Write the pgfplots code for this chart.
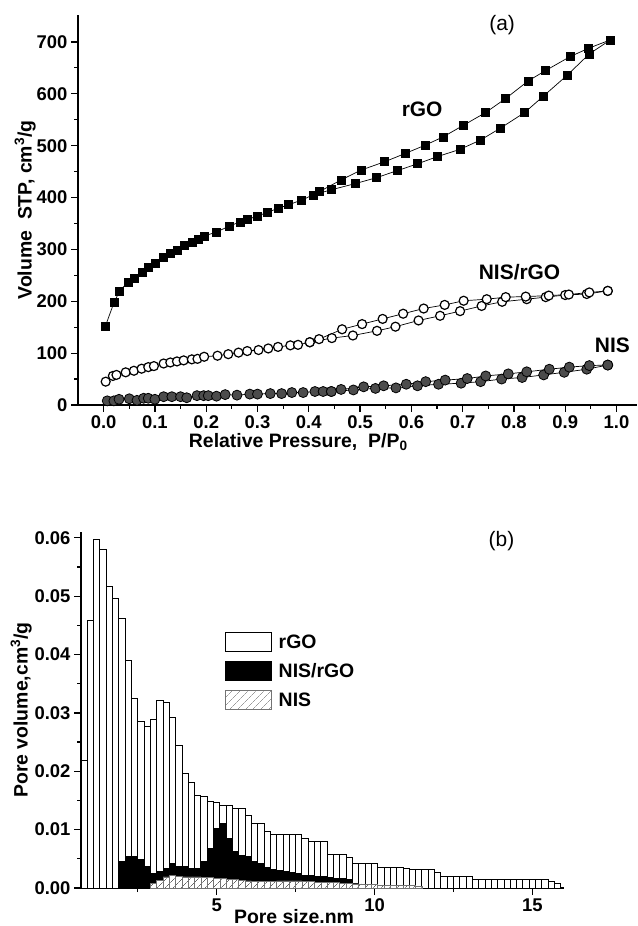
\documentclass[border=0pt]{standalone}
\usepackage{fontspec}
\setmainfont{Liberation Sans}
\usepackage{pgfplots}
\pgfplotsset{compat=1.18}
\usepackage{pgfplotstable}
\usetikzlibrary{patterns,patterns.meta}

\pgfplotstableread{
x rgo
0.8 0.0219
1.0 0.0459
1.2 0.0598
1.4 0.0580
1.6 0.0516
1.8 0.0496
2.0 0.0461
2.2 0.0389
2.4 0.0324
2.6 0.0285
2.8 0.0276
3.0 0.0289
3.2 0.0322
3.4 0.0317
3.6 0.0292
3.8 0.0245
4.0 0.0197
4.2 0.0181
4.4 0.0158
4.6 0.0156
4.8 0.0149
5.0 0.0146
5.2 0.0142
5.4 0.0142
5.6 0.0137
5.8 0.0136
6.0 0.0124
6.2 0.0110
6.4 0.0110
6.6 0.0096
6.8 0.0092
7.0 0.0092
7.2 0.0092
7.4 0.0092
7.6 0.0092
7.8 0.0085
8.0 0.0079
8.2 0.0079
8.4 0.0079
8.6 0.0057
8.8 0.0057
9.0 0.0057
9.2 0.0052
9.4 0.0042
9.6 0.0042
9.8 0.0042
10.0 0.0042
10.2 0.0035
10.4 0.0035
10.6 0.0035
10.8 0.0035
11.0 0.0033
11.2 0.0032
11.4 0.0032
11.6 0.0032
11.8 0.0032
12.0 0.0027
12.2 0.0020
12.4 0.0020
12.6 0.0020
12.8 0.0020
13.0 0.0020
13.2 0.0014
13.4 0.0014
13.6 0.0014
13.8 0.0014
14.0 0.0014
14.2 0.0014
14.4 0.0014
14.6 0.0014
14.8 0.0014
15.0 0.0014
15.2 0.0014
15.4 0.0014
15.6 0.0011
15.8 0.0007
}\rgotable

\pgfplotstableread{
x y
2.0 0.0045
2.2 0.0054
2.4 0.0054
2.6 0.0048
2.8 0.0037
3.0 0.0025
3.2 0.0028
3.4 0.0033
3.6 0.0042
3.8 0.0037
4.0 0.0036
4.2 0.0034
4.4 0.0033
4.6 0.0045
4.8 0.0068
5.0 0.0102
5.2 0.0110
5.4 0.0085
5.6 0.0063
5.8 0.0056
6.0 0.0054
6.2 0.0045
6.4 0.0042
6.6 0.0035
6.8 0.0032
7.0 0.0030
7.2 0.0029
7.4 0.0026
7.6 0.0024
7.8 0.0022
8.0 0.0021
8.2 0.0020
8.4 0.0019
8.6 0.0018
8.8 0.0017
9.0 0.0016
9.2 0.0014
9.4 0.0008
9.6 0.0006
9.8 0.0005
10.0 0.0004
10.2 0.0003
10.4 0.0003
10.6 0.0002
10.8 0.0002
11.0 0.0002
11.2 0.0001
}\nisrgotable

\pgfplotstableread{
x y
3.0 0.0008
3.2 0.0013
3.4 0.0019
3.6 0.0022
3.8 0.0020
4.0 0.0019
4.2 0.0019
4.4 0.0019
4.6 0.0018
4.8 0.0018
5.0 0.0017
5.2 0.0016
5.4 0.0015
5.6 0.0014
5.8 0.0013
6.0 0.0012
6.2 0.0011
6.4 0.0011
6.6 0.0011
6.8 0.0011
7.0 0.0012
7.2 0.0012
7.4 0.0012
7.6 0.0012
7.8 0.0011
8.0 0.0011
8.2 0.0010
8.4 0.0010
8.6 0.0009
8.8 0.0009
9.0 0.0008
9.2 0.0008
9.4 0.0007
9.6 0.0007
9.8 0.0006
10.0 0.0006
10.2 0.0005
10.4 0.0005
10.6 0.0005
10.8 0.0004
11.0 0.0004
11.2 0.0004
11.4 0.0003
}\nistable

\pgfplotsset{
  mybar/.style={ybar, bar width=0.2, bar shift=0pt, line width=1bp,
    legend image code/.code={\draw[##1] (0bp,-9.5bp) rectangle (46bp,9.5bp); \path (51bp,0bp);}},
  common/.style={
    scale only axis,
    axis lines*=left,
    axis line style={line width=1.5bp},
    tick align=outside,
    major tick length=7bp, minor tick length=4bp,
    every tick/.style={line width=1.2bp, black},
    /pgf/number format/assume math mode=true,
    tick label style={font=\fontsize{18.5}{22}\selectfont\bfseries},
    label style={font=\fontsize{19.5}{23}\selectfont\bfseries},
  }
}

\begin{document}
\begin{tikzpicture}
\path[use as bounding box] (0bp,0bp) rectangle (638bp,926bp);

% ---------- (a) ----------
\begin{axis}[common,
  at={(78bp,521bp)}, anchor=south west,
  width=559bp, height=390bp,
  xmin=-0.05, xmax=1.04, ymin=0, ymax=752,
  xtick={0,0.1,0.2,0.3,0.4,0.5,0.6,0.7,0.8,0.9,1.0}, minor x tick num=1,
  ytick={0,100,200,300,400,500,600,700}, minor y tick num=1,
  xticklabel style={/pgf/number format/.cd, fixed, fixed zerofill, precision=1},
  xlabel={Relative Pressure,\ \ P/P\textsubscript{0}},
  ylabel={Volume\ \ STP, cm\textsuperscript{3}/g},
  xlabel style={at={(axis description cs:0.394,0)}, anchor=north, inner sep=0pt, yshift=-28bp},
  ylabel style={at={(axis description cs:-0.0751,0.5)}, anchor=south, inner sep=0pt},
  clip=false,
]
\addplot[black, line width=0.7bp, mark=square*, mark size=4bp, mark options={solid, fill=black}] coordinates {
(0.003,151)(0.02,197)(0.031,220)(0.048,237)(0.059,244)(0.075,256)(0.087,265)(0.1,273)(0.117,285)(0.13,292)(0.143,299)(0.157,307)(0.172,313)(0.185,320)(0.196,326)(0.219,333)(0.245,345)(0.266,353)(0.28,358)(0.30,364)(0.32,372)(0.34,379)(0.36,386)(0.386,395)(0.408,405)(0.444,415)(0.491,427)(0.531,438)(0.573,452)(0.612,465)(0.651,479)(0.695,493)(0.735,511)(0.774,534)(0.821,564)(0.858,596)(0.904,636)(0.947,677)(0.988,704)};
\addplot[black, line width=0.7bp, mark=square*, mark size=4bp, mark options={solid, fill=black}] coordinates {
(0.988,704)(0.946,688)(0.91,672)(0.862,645)(0.828,625)(0.784,591)(0.745,564)(0.701,539)(0.662,517)(0.627,501)(0.588,485)(0.548,469)(0.502,453)(0.463,434)(0.42,411)};

\addplot[black, line width=0.7bp, mark=*, mark size=4.5bp, mark options={solid, fill=white, line width=1.2bp}] coordinates {
(0.004,45)(0.018,56)(0.025,58)(0.043,63)(0.059,66)(0.074,70)(0.087,73)(0.098,75)(0.117,80)(0.13,82)(0.143,84)(0.156,86)(0.172,88)(0.183,89)(0.196,93)(0.222,95)(0.243,98)(0.263,101)(0.28,104)(0.302,106)(0.321,109)(0.34,112)(0.364,115)(0.379,116)(0.402,121)(0.445,129)(0.486,134)(0.533,143)(0.569,151)(0.614,163)(0.656,172)(0.695,181)(0.737,191)(0.777,199)(0.825,204)(0.862,208)(0.9,212)(0.942,214)(0.983,220)};
\addplot[black, line width=0.7bp, mark=*, mark size=4.5bp, mark options={solid, fill=white, line width=1.2bp}] coordinates {
(0.983,220)(0.947,217)(0.907,213)(0.868,211)(0.823,209)(0.784,208)(0.747,204)(0.702,201)(0.665,193)(0.624,186)(0.584,176)(0.544,166)(0.504,156)(0.465,146)(0.42,127)(0.402,121)};

\addplot[black, line width=0.7bp, mark=*, mark size=5bp, mark options={solid, fill=black!70, line width=0.8bp}] coordinates {
(0.007,8)(0.02,8)(0.03,11)(0.05,12)(0.065,9)(0.078,13)(0.087,13)(0.1,11)(0.117,16)(0.133,16)(0.15,16)(0.162,14)(0.182,18)(0.195,18)(0.204,18)(0.22,17)(0.237,20)(0.26,19)(0.285,21)(0.3,21)(0.325,22)(0.347,22)(0.367,24)(0.389,24)(0.412,26)(0.428,26)(0.444,26)(0.487,29)(0.53,32)(0.57,33)(0.612,37)(0.653,40)(0.697,42)(0.735,45)(0.776,50)(0.816,53)(0.858,58)(0.898,63)(0.942,69)(0.983,77)};
\addplot[black, line width=0.7bp, mark=*, mark size=5bp, mark options={solid, fill=black!70, line width=0.8bp}] coordinates {
(0.983,77)(0.947,76)(0.908,73)(0.869,69)(0.825,64)(0.789,60)(0.745,56)(0.709,51)(0.666,48)(0.628,45)(0.59,40)(0.546,37)(0.507,35)(0.463,30)(0.444,26)};

\node[font=\fontsize{21}{24}\selectfont\bfseries] at (axis cs:0.621,571) {rGO};
\node[font=\fontsize{21}{24}\selectfont] at (axis cs:0.777,733) {(a)};
\node[font=\fontsize{21}{24}\selectfont\bfseries] at (axis cs:0.811,256) {NIS/rGO};
\node[font=\fontsize{21}{24}\selectfont\bfseries] at (axis cs:0.992,115) {NIS};
\end{axis}

% ---------- (b) ----------
\begin{axis}[common,
  at={(81bp,38bp)}, anchor=south west,
  width=483bp, height=356bp,
  xmin=0.7, xmax=16.0, ymin=0, ymax=0.061,
  xtick={5,10,15}, minor xtick={2.5,7.5,12.5},
  ytick={0,0.01,0.02,0.03,0.04,0.05,0.06}, minor y tick num=1,
  scaled y ticks=false,
  yticklabel style={/pgf/number format/.cd, fixed, fixed zerofill, precision=2},
  xlabel={Pore size.nm},
  ylabel={Pore volume,cm\textsuperscript{3}/g},
  xlabel style={at={(axis description cs:0.441,0)}, anchor=north, inner sep=0pt, yshift=-21bp},
  ylabel style={at={(axis description cs:-0.1014,0.5)}, anchor=south, inner sep=0pt},
  legend style={at={(axis description cs:0.292,0.724)}, anchor=north west, draw=none, fill=none,
    font=\fontsize{19.5}{22}\selectfont\bfseries, row sep=9bp,
    nodes={inner sep=1.5bp}},
  legend cell align=left,
  clip=false,
]
\addplot[mybar, fill=white, draw=black] table[x=x, y=rgo]{\rgotable};
\addlegendentry{rGO}
\addplot[mybar, fill=black, draw=black] table[x=x, y=y]{\nisrgotable};
\addlegendentry{NIS/rGO}
\addplot[mybar, fill=white, draw=black!55, line width=0.8bp, postaction={pattern={Lines[angle=45, distance=6bp, line width=0.6bp]}, pattern color=black!60}] table[x=x, y=y]{\nistable};
\addlegendentry{NIS}
\node[font=\fontsize{21}{24}\selectfont] at (axis cs:14.02,0.0594) {(b)};
\end{axis}
\end{tikzpicture}
\end{document}
